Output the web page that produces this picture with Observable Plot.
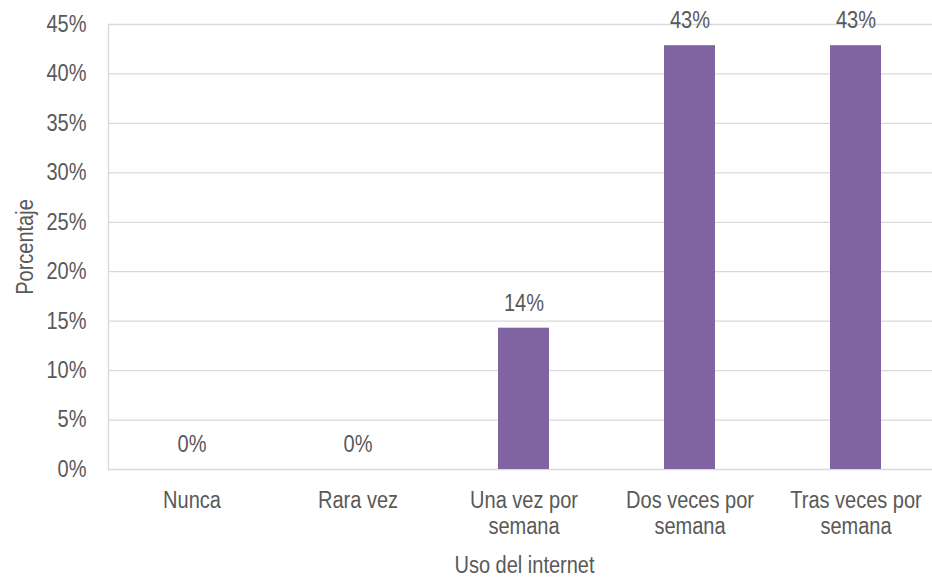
<!DOCTYPE html>
<html>
<head>
<meta charset="utf-8">
<script src="https://cdn.jsdelivr.net/npm/d3@7"></script>
<script src="https://cdn.jsdelivr.net/npm/@observablehq/plot@0.6"></script>
<style>
  html, body { margin: 0; padding: 0; background: #fff; }
  #chart svg { display: block; }
</style>
</head>
<body>
<div id="chart"></div>
<script>
const categories = ["Nunca", "Rara vez", "Una vez por semana", "Dos veces por semana", "Tras veces por semana"];
const tickLabels = ["Nunca", "Rara vez", "Una vez por\nsemana", "Dos veces por\nsemana", "Tras veces por\nsemana"];
const values = [0, 0, 14.29, 42.86, 42.86];
const valueLabels = ["0%", "0%", "14%", "43%", "43%"];
const yTicks = [0, 5, 10, 15, 20, 25, 30, 35, 40, 45];
const xTitle = "Uso del internet";
const yTitle = "Porcentaje";

const data = categories.map((c, i) => ({cat: c, value: values[i], label: valueLabels[i]}));
const tickMap = new Map(categories.map((c, i) => [c, tickLabels[i]]));

const FONT = "'Liberation Sans', Arial, sans-serif";
const TEXT = "#595959";
const GRID = "#d9d9d9";
const FS = 23;

const chart = Plot.plot({
  width: 932,
  height: 578,
  marginTop: 24,
  marginBottom: 109,
  marginLeft: 108,
  marginRight: -8,
  style: {fontFamily: FONT, fontSize: FS + "px", color: TEXT, background: "#fff"},
  x: {domain: categories, paddingInner: 0.69, paddingOuter: 0.345, label: null},
  y: {domain: [0, 45], label: null},
  marks: [
    Plot.ruleY(yTicks, {stroke: GRID, strokeWidth: 1.3}),
    Plot.frame({anchor: "left", stroke: GRID, strokeWidth: 1.3}),
    Plot.barY(data, {x: "cat", y: "value", fill: "#8064a2"}),
    Plot.text(data, {x: "cat", y: "value", text: "label", dy: -25, fill: TEXT, fontSize: FS, lineAnchor: "middle"}),
    Plot.axisY({ticks: yTicks, tickFormat: d => d + "%", tickSize: 0, tickPadding: 22, fontSize: FS, fill: TEXT, label: null}),
    Plot.axisX({tickSize: 0, tickPadding: 20, tickFormat: d => tickMap.get(d), fontSize: FS, fill: TEXT, lineAnchor: "top", lineHeight: 1.13, label: null}),
    Plot.text([xTitle], {frameAnchor: "bottom", dy: 96, fontSize: FS, fill: TEXT, lineAnchor: "middle", textAnchor: "middle"}),
    Plot.text([yTitle], {frameAnchor: "left", dx: -83, rotate: -90, fontSize: FS, fill: TEXT, lineAnchor: "middle", textAnchor: "middle"})
  ]
});

// Condense glyphs horizontally to mimic a narrow typeface
chart.querySelectorAll("text").forEach(t => {
  const tr = t.getAttribute("transform");
  if (tr) t.setAttribute("transform", tr + " scale(0.87,1)");
});

document.getElementById("chart").appendChild(chart);
</script>
</body>
</html>
